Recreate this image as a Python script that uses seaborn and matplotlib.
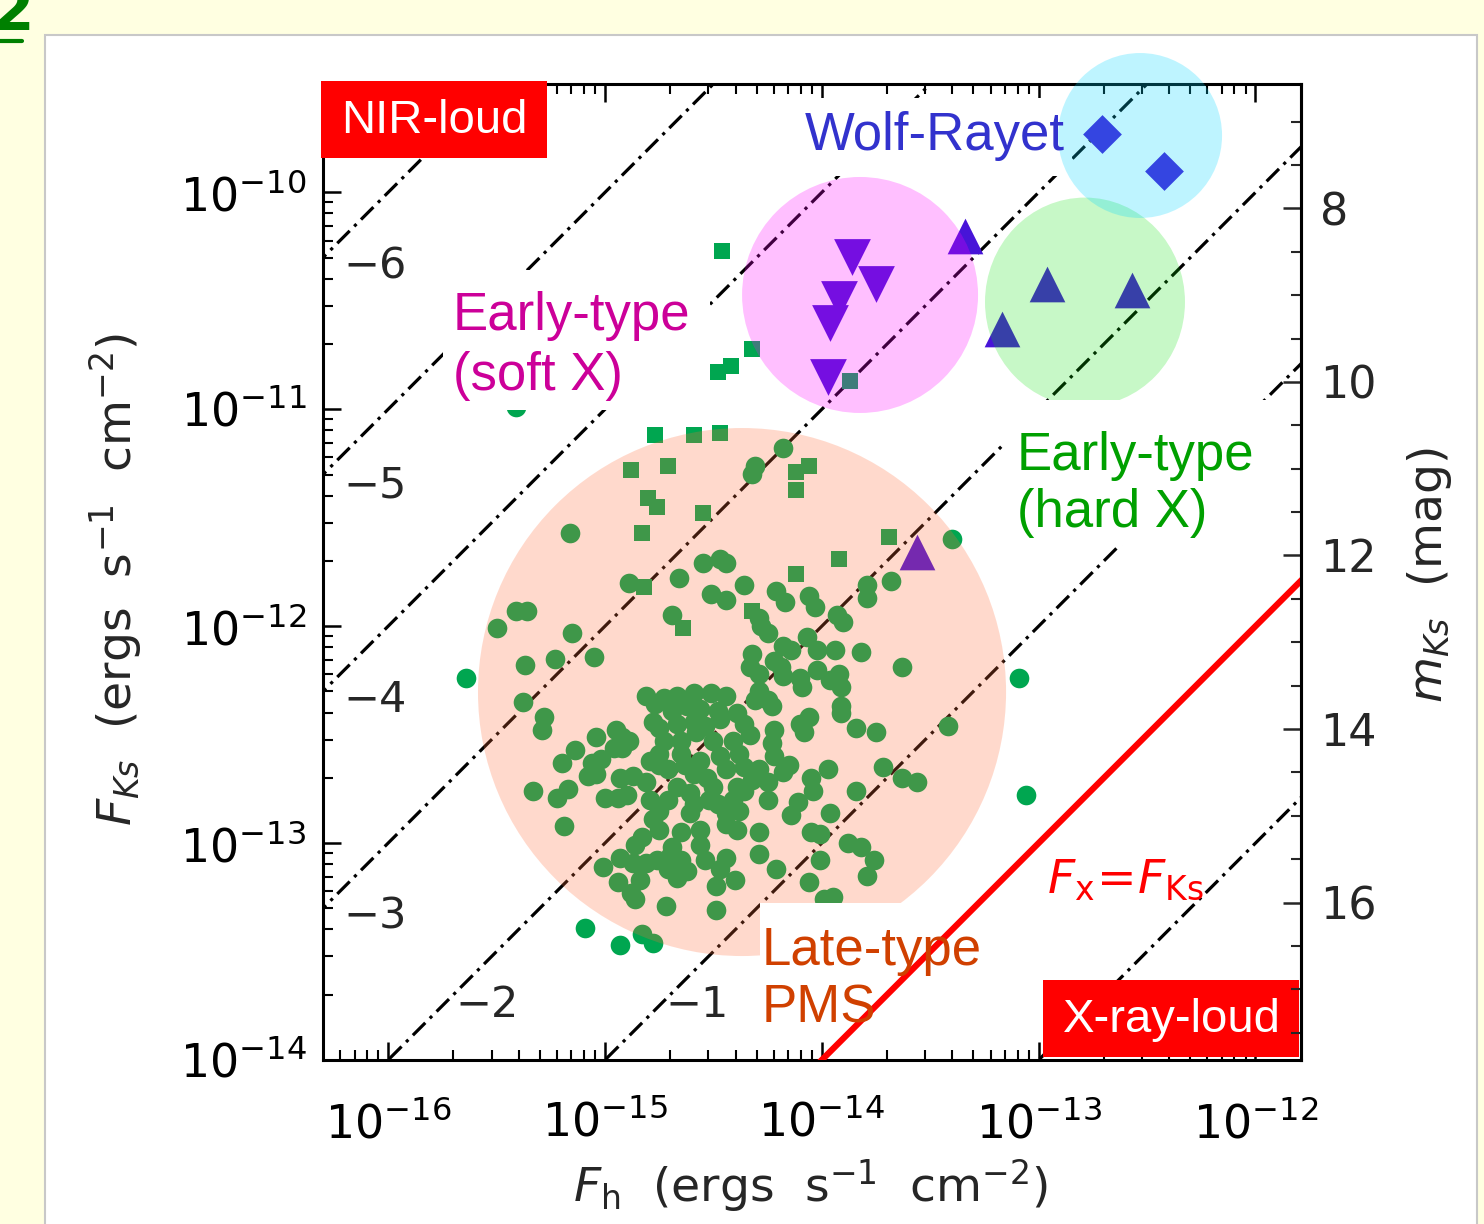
import numpy as np
import pandas as pd
import matplotlib
matplotlib.use("Agg")
import matplotlib.pyplot as plt
import seaborn as sns
from matplotlib.patches import Ellipse, Rectangle
from matplotlib.lines import Line2D
from matplotlib.ticker import FixedLocator, LogLocator, MultipleLocator, NullFormatter

# --- dados (log10 dos fluxos, ergs s^-1 cm^-2) ---
# estrelas tardias PMS (circulos)
pms_log_fh = [
    -15.16, -15.50, -15.41, -15.36, -15.15, -15.37, -15.23, -15.05, -15.38, -14.89,
    -14.66, -14.55, -14.47, -14.44, -14.51, -14.44, -14.69, -14.36, -15.64, -14.31,
    -14.32, -14.18, -13.40, -13.68, -13.79, -13.79, -14.21, -14.17, -14.06, -14.03,
    -14.29, -14.28, -14.25, -13.93, -13.90, -14.18, -14.14, -14.07, -14.02, -13.94,
    -13.82, -13.63, -14.32, -14.22, -14.19, -14.33, -14.29, -14.18, -14.02, -14.10,
    -14.09, -13.96, -13.92, -13.91, -14.29, -14.25, -14.23, -13.91, -13.09, -15.28,
    -15.29, -15.04, -14.95, -14.92, -14.89, -14.96, -14.92, -15.14, -15.20, -15.06,
    -15.02, -15.08, -15.04, -14.93, -14.87, -14.81, -15.33, -15.22, -15.17, -15.00,
    -14.94, -14.90, -15.19, -14.78, -14.79, -14.75, -14.81, -14.73, -14.67, -14.59,
    -14.51, -14.44, -14.69, -14.62, -14.56, -14.48, -14.75, -14.67, -14.59, -14.47,
    -14.39, -14.36, -14.73, -14.65, -14.58, -14.50, -14.41, -14.75, -14.65, -14.56,
    -14.47, -14.38, -14.71, -14.59, -14.53, -14.44, -14.36, -14.67, -14.61, -14.50,
    -14.39, -14.71, -14.59, -14.48, -14.41, -14.75, -14.61, -14.44, -14.38, -14.78,
    -14.75, -14.65, -14.56, -14.44, -14.39, -14.83, -14.86, -14.69, -14.70, -14.65,
    -14.62, -14.67, -14.71, -14.93, -14.87, -14.81, -14.76, -15.01, -14.94, -14.88,
    -14.86, -14.72, -14.54, -14.44, -14.49, -14.40, -14.49, -15.09, -14.93, -14.83,
    -14.78, -14.22, -14.23, -14.22, -14.10, -14.06, -14.08, -13.91, -13.84, -13.75,
    -13.42, -14.32, -14.36, -14.25, -14.25, -14.18, -14.15, -14.05, -14.04, -13.97,
    -13.84, -13.72, -13.63, -13.56, -14.11, -14.14, -13.96, -14.29, -14.05, -14.01,
    -13.88, -13.82, -13.76, -13.79, -14.29, -14.21, -14.01, -14.06, -13.99, -13.95,
    -13.06, -15.41, -14.77, -14.54, -14.63, -14.52, -14.79, -14.56, -14.47, -14.84,
    -14.31, -14.33, -14.29,
]
pms_log_fks = [
    -11.57, -12.01, -11.93, -11.93, -12.03, -12.18, -12.15, -12.14, -12.35, -11.80,
    -11.78, -11.71, -11.69, -11.71, -11.85, -11.88, -11.95, -11.81, -12.24, -11.26,
    -11.30, -11.18, -11.60, -11.79, -11.81, -11.87, -11.84, -11.89, -11.86, -11.91,
    -11.96, -12.00, -12.03, -11.95, -11.98, -12.09, -12.11, -12.05, -12.11, -12.11,
    -12.12, -12.19, -12.13, -12.16, -12.19, -12.19, -12.22, -12.23, -12.20, -12.24,
    -12.28, -12.25, -12.22, -12.28, -12.30, -12.34, -12.37, -12.37, -12.24, -12.42,
    -12.48, -12.51, -12.48, -12.51, -12.53, -12.56, -12.56, -12.57, -12.63, -12.63,
    -12.61, -12.69, -12.68, -12.70, -12.69, -12.72, -12.76, -12.79, -12.75, -12.79,
    -12.79, -12.78, -12.92, -12.44, -12.62, -12.64, -12.32, -12.33, -12.32, -12.31,
    -12.31, -12.32, -12.39, -12.37, -12.38, -12.39, -12.47, -12.45, -12.44, -12.43,
    -12.40, -12.45, -12.53, -12.53, -12.49, -12.53, -12.53, -12.59, -12.59, -12.62,
    -12.60, -12.59, -12.66, -12.68, -12.70, -12.66, -12.65, -12.74, -12.77, -12.74,
    -12.74, -12.80, -12.82, -12.82, -12.80, -12.85, -12.86, -12.86, -12.85, -12.89,
    -12.94, -12.95, -12.94, -12.91, -12.94, -12.97, -13.01, -13.02, -13.06, -13.08,
    -13.13, -13.16, -13.12, -13.07, -13.09, -13.09, -13.08, -13.11, -13.18, -13.23,
    -13.26, -13.29, -13.08, -13.07, -13.20, -13.17, -13.31, -13.39, -13.47, -13.42,
    -13.46, -12.48, -12.54, -12.60, -12.45, -12.42, -12.49, -12.40, -12.47, -12.49,
    -12.46, -12.71, -12.76, -12.72, -12.80, -12.67, -12.64, -12.70, -12.76, -12.66,
    -12.76, -12.65, -12.70, -12.72, -12.81, -12.87, -12.86, -12.95, -12.95, -12.96,
    -13.00, -13.02, -13.08, -13.15, -13.05, -13.12, -13.08, -13.18, -13.26, -13.25,
    -12.78, -10.99, -12.36, -12.46, -12.64, -12.80, -12.80, -13.01, -13.12, -13.17,
    -12.34, -12.50, -12.66,
]

# fontes com emissao mais forte (quadrados)
sq_log_fh = [-14.46, -14.32, -14.42, -14.48, -13.87, -14.77, -14.59, -14.47, -14.88, -14.71,
             -14.80, -14.76, -14.55, -14.83, -14.82, -14.64, -14.06, -14.12, -14.12, -13.69,
             -13.92, -14.12, -14.32]
sq_log_fks = [-10.27, -10.72, -10.80, -10.83, -10.87, -11.12, -11.12, -11.11, -11.28, -11.26,
              -11.41, -11.45, -11.48, -11.57, -11.82, -12.01, -11.26, -11.29, -11.37, -11.59,
              -11.69, -11.76, -11.93]

# early-type (soft X) - triangulos para baixo
soft_log_fh = [-13.86, -13.75, -13.92, -13.96, -13.97]
soft_log_fks = [-10.30, -10.42, -10.49, -10.60, -10.85]

# early-type (hard X) - triangulos para cima
hard_log_fh = [-13.34, -12.96, -12.57, -13.17, -13.56]
hard_log_fks = [-10.20, -10.42, -10.45, -10.63, -11.66]

# Wolf-Rayet - losangos
wr_log_fh = [-12.71, -12.42]
wr_log_fks = [-9.73, -9.90]

# linhas de razao log(Fx/FKs)
ratio_lines = [-6, -5, -4, -3, -2, -1, 1]
ratio_labels = ["\u22126", "\u22125", "\u22124", "\u22123", "\u22122", "\u22121"]

X_LIM = (10 ** -16.3, 10 ** -11.79)
Y_LIM = (1e-14, 10 ** -9.5)
x_major = [1e-16, 1e-15, 1e-14, 1e-13, 1e-12]
y_major = [1e-14, 1e-13, 1e-12, 1e-11, 1e-10]
KS_ZERO_LOG = -6.874   # log F_Ks para m_Ks = 0
mag_ticks = [8, 10, 12, 14, 16]

# --- estilo ---
sns.set_style("ticks")
plt.rcParams["font.family"] = ["DejaVu Sans"]
plt.rcParams["mathtext.fontset"] = "dejavusans"
LABEL_FONT = ["Liberation Sans", "DejaVu Sans"]

GREEN = "#00A650"
BLUE = "#4714D8"

fig = plt.figure(figsize=(14.84, 12.24), dpi=100)
fig.patch.set_facecolor("#FFFFE1")
fig.add_artist(Rectangle((45 / 1484, -0.01), (1477 - 45) / 1484, (1224 - 35) / 1224 + 0.01,
                         transform=fig.transFigure, facecolor="white",
                         edgecolor="#C8C8C8", lw=1.5, zorder=-5))
fig.text(-0.006, 1 - 30 / 1224, "2", fontsize=44, weight="bold", color="#008000",
         va="baseline", ha="left")
fig.add_artist(Line2D([0, 22 / 1484], [1 - 41 / 1224] * 2, color="#008000", lw=3,
                      transform=fig.transFigure))

ax = fig.add_axes([0.2177, 0.1340, 0.6590, 0.7974])
ax.set_facecolor("none")
ax.set_xscale("log")
ax.set_yscale("log")

# linhas diagonais
fh_grid = np.logspace(-17, -11, 60)
for r in ratio_lines:
    ax.plot(fh_grid, fh_grid / 10.0 ** r, color="black", lw=2.3,
            ls=(0, (5.5, 2.0, 1, 2.0)), zorder=1)
ax.plot(fh_grid, fh_grid, color="red", lw=4.5, zorder=6)


def draw_group(lfh, lfks, marker, size, color):
    d = pd.DataFrame({"fh": 10.0 ** np.array(lfh), "fks": 10.0 ** np.array(lfks)})
    sns.scatterplot(data=d, x="fh", y="fks", marker=marker, s=size, color=color,
                    linewidth=0, ax=ax, zorder=2, legend=False)


draw_group(pms_log_fh, pms_log_fks, "o", 200, GREEN)
draw_group(sq_log_fh, sq_log_fks, "s", 140, GREEN)
draw_group(soft_log_fh, soft_log_fks, "v", 700, BLUE)
draw_group(hard_log_fh, hard_log_fks, "^", 660, BLUE)
draw_group(wr_log_fh, wr_log_fks, "D", 390, BLUE)

ax.set_xlim(X_LIM)
ax.set_ylim(Y_LIM)

# circulos translucidos (coordenadas do eixo)
ax.add_patch(Ellipse((0.4284, 0.3770), 0.540, 0.541, transform=ax.transAxes,
                     facecolor="#FF6B37", alpha=0.25, lw=0, zorder=3, clip_on=False))
ax.add_patch(Ellipse((0.5491, 0.7838), 0.2413, 0.2418, transform=ax.transAxes,
                     facecolor="#FF00FF", alpha=0.25, lw=0, zorder=3, clip_on=False))
ax.add_patch(Ellipse((0.7791, 0.7766), 0.2045, 0.2140, transform=ax.transAxes,
                     facecolor="#00E000", alpha=0.22, lw=0, zorder=3, clip_on=False))
ax.add_patch(Ellipse((0.8354, 0.9472), 0.1677, 0.1690, transform=ax.transAxes,
                     facecolor="#00D7FF", alpha=0.255, lw=0, zorder=5, clip_on=False))

# caixas brancas atras dos rotulos
for x0, y0, w, h in [(0.1227, 0.666, 0.273, 0.143), (0.6953, 0.5277, 0.2935, 0.1483),
                     (0.4468, 0.0205, 0.2350, 0.1404), (0.4888, 0.9057, 0.2770, 0.0800)]:
    ax.add_patch(Rectangle((x0, y0), w, h, transform=ax.transAxes, facecolor="white",
                           lw=0, zorder=4))

# rotulos das linhas
for lab, (tx, ty) in zip(ratio_labels, [(0.053, 0.8125), (0.053, 0.589), (0.053, 0.369),
                                        (0.053, 0.1465), (0.1677, 0.0564), (0.3824, 0.0564)]):
    ax.text(tx, ty, lab, transform=ax.transAxes, fontsize=31, ha="center", va="center",
            zorder=7)

# rotulos das classes
ax.text(0.1329, 0.748, "Early-type", transform=ax.transAxes, color="#CC0099",
        fontsize=38, family=LABEL_FONT, zorder=7)
ax.text(0.1329, 0.6865, "(soft X)", transform=ax.transAxes, color="#CC0099",
        fontsize=38, family=LABEL_FONT, zorder=7)
ax.text(0.4928, 0.9324, "Wolf-Rayet", transform=ax.transAxes, color="#3232CD",
        fontsize=38, family=LABEL_FONT, zorder=7)
ax.text(0.7096, 0.6045, "Early-type", transform=ax.transAxes, color="#00A000",
        fontsize=38, family=LABEL_FONT, zorder=7)
ax.text(0.7096, 0.5461, "(hard X)", transform=ax.transAxes, color="#00A000",
        fontsize=38, family=LABEL_FONT, zorder=7)
ax.text(0.4489, 0.0973, "Late-type", transform=ax.transAxes, color="#D04000",
        fontsize=38, family=LABEL_FONT, zorder=7)
ax.text(0.4489, 0.0379, "PMS", transform=ax.transAxes, color="#D04000",
        fontsize=38, family=LABEL_FONT, zorder=7)
ax.text(0.7403, 0.1711, r"$F_{\rm x}\!=\!F_{\rm Ks}$", transform=ax.transAxes,
        color="red", fontsize=34, zorder=7)

# caixas vermelhas
ax.add_patch(Rectangle((-0.002, 0.9242), 0.231, 0.0789, transform=ax.transAxes,
                       facecolor="#FF0000", lw=0, zorder=8, clip_on=False))
ax.text(0.1135, 0.9621, "NIR-loud", transform=ax.transAxes, color="white", fontsize=34,
        family=LABEL_FONT, ha="center", va="center", zorder=9)
ax.add_patch(Rectangle((0.7362, 0.003), 0.2618, 0.079, transform=ax.transAxes,
                       facecolor="#FF0000", lw=0, zorder=8, clip_on=False))
ax.text(0.8681, 0.041, "X-ray-loud", transform=ax.transAxes, color="white", fontsize=34,
        family=LABEL_FONT, ha="center", va="center", zorder=9)

# eixos e ticks
ax.xaxis.set_major_locator(FixedLocator(x_major))
ax.xaxis.set_minor_locator(LogLocator(base=10, subs=np.arange(2, 10), numticks=20))
ax.yaxis.set_major_locator(FixedLocator(y_major))
ax.yaxis.set_minor_locator(LogLocator(base=10, subs=np.arange(2, 10), numticks=20))
ax.xaxis.set_minor_formatter(NullFormatter())
ax.yaxis.set_minor_formatter(NullFormatter())
ax.tick_params(which="both", direction="in", top=True, right=False, labelsize=33,
               colors="black")
ax.tick_params(which="major", length=13, width=1.8)
ax.tick_params(which="minor", length=7, width=1.5)
ax.tick_params(axis="x", pad=30)
ax.tick_params(axis="y", pad=12)
for sp in ax.spines.values():
    sp.set_linewidth(2.2)
    sp.set_color("black")
ax.set_xlabel("")
ax.set_ylabel("")

ax2 = ax.twinx()
ax2.set_ylim((KS_ZERO_LOG - np.log10(Y_LIM[0])) / 0.4, (KS_ZERO_LOG - np.log10(Y_LIM[1])) / 0.4)
ax2.set_yticks(mag_ticks)
ax2.yaxis.set_minor_locator(MultipleLocator(0.5))
ax2.tick_params(which="both", direction="in", labelsize=32, right=True)
ax2.tick_params(which="major", length=13, width=1.8, pad=14)
ax2.tick_params(which="minor", length=7, width=1.5)
for side in ["left", "top", "bottom"]:
    ax2.spines[side].set_visible(False)
ax2.spines["right"].set_linewidth(2.2)
ax2.spines["right"].set_color("black")

# titulos dos eixos
fig.text(810 / 1484, 1 - 1185 / 1224,
         r"$F_{\rm h}$  (ergs  s$^{-1}$  cm$^{-2}$)", fontsize=34, ha="center", va="center")
fig.text(115 / 1484, 1 - 580 / 1224,
         r"$F_{Ks}$  (ergs  s$^{-1}$  cm$^{-2}$)", fontsize=34, ha="center", va="center",
         rotation=90)
fig.text(1430 / 1484, 1 - 575 / 1224, r"$m_{Ks}$  (mag)", fontsize=34, ha="center",
         va="center", rotation=90)

fig.savefig("out.png", dpi=100, facecolor=fig.get_facecolor())
